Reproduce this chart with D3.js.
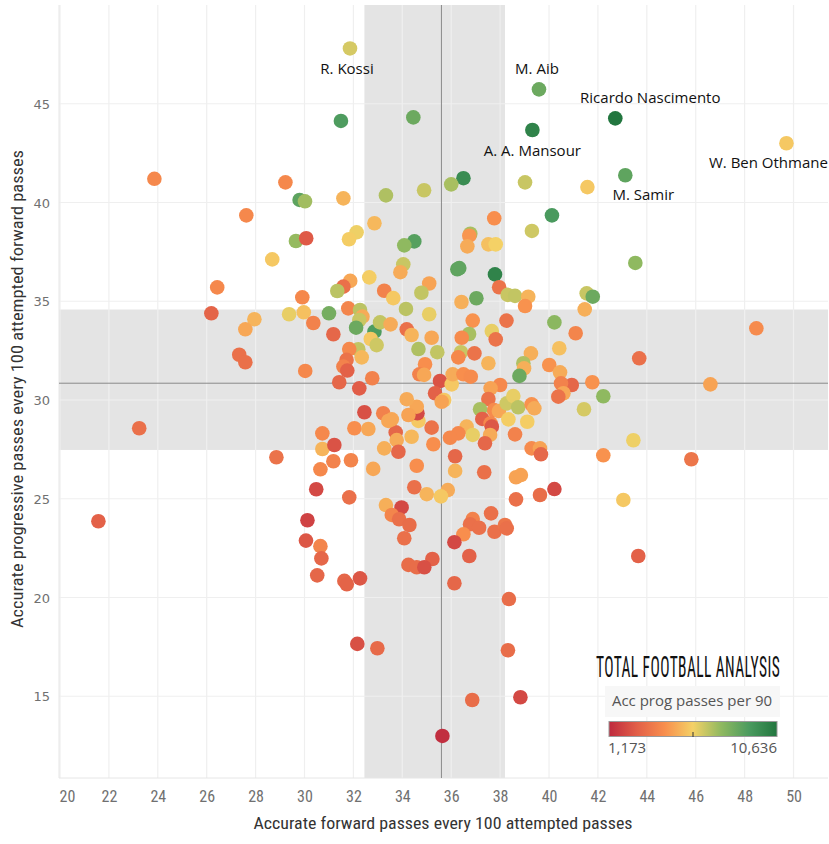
<!DOCTYPE html>
<html><head><meta charset="utf-8">
<script src="https://cdn.jsdelivr.net/npm/d3@7"></script>
<style>
html,body{margin:0;padding:0;background:#fff;}
svg{display:block;}
</style></head>
<body>
<svg id="chart" width="829" height="844"></svg>
<script>
// Accurate forward passes every 100 attempted passes (x)
const accForward = [
23.86,29.22,29.8,30.02,27.62,29.65,30.07,28.68,26.43,29.91,26.19,27.95,27.58,29.37,29.97,30.36,31.0,31.18,27.33,27.58,30.03,
23.24,30.73,30.73,28.85,30.65,31.18,31.22,30.48,21.57,30.12,30.06,30.65,30.69,30.52,
31.86,39.59,31.49,34.45,39.32,36.5,36.0,39.02,31.59,33.33,34.89,40.12,37.76,32.86,32.13,31.82,39.3,36.78,36.74,36.66,37.52,37.82,34.49,34.08,34.04,33.92,36.25,36.33,37.79,37.96,32.65,35.1,33.26,31.87,31.59,31.34,34.78,33.63,36.42,37.03,38.31,38.61,39.15,
42.71,49.71,43.12,41.57,43.53,41.54,41.79,
48.48,43.69,46.6,41.77,40.93,42.22,41.43,43.45,42.22,45.82,41.09,41.46,
31.79,32.27,32.37,32.24,32.11,32.86,33.09,33.52,32.71,32.95,32.2,32.34,31.83,31.72,31.59,31.75,31.42,32.24,32.77,34.15,35.1,34.18,34.38,35.2,34.66,35.43,34.93,34.7,34.89,35.54,35.34,35.71,35.61,36.02,36.06,36.5,36.8,36.88,36.73,36.43,36.4,36.29,36.95,37.66,37.82,38.26,37.52,39.02,40.22,40.42,39.26,38.95,38.98,38.79,40.01,40.45,40.49,40.59,40.38,38.0,37.61,37.52,37.75,37.95,37.18,37.27,37.61,37.66,37.59,37.38,38.27,38.54,38.74,38.34,39.11,39.29,39.4,38.61,39.29,39.63,39.67,36.63,36.88,36.29,35.95,36.16,35.2,35.27,34.38,34.66,34.62,34.59,34.25,34.18,33.73,33.77,33.84,33.26,33.22,33.57,33.43,32.04,32.61,32.45,31.9,
32.81,34.59,36.16,37.35,38.65,38.85,34.49,35.0,35.86,35.58,31.83,33.33,33.97,33.57,33.87,34.29,34.08,36.88,36.77,37.14,36.5,37.63,37.77,38.2,38.27,36.13,36.74,35.23,34.25,34.59,34.9,31.63,31.73,32.27,36.13,38.36,38.65,39.63,40.22,43.04,43.65,
32.16,32.98,38.32,36.86,38.83,35.64
];
// Accurate progressive passes every 100 attempted forward passes (y)
const accProgressive = [
41.2,41.02,40.13,40.06,39.35,38.05,38.19,37.12,35.7,35.2,34.39,34.09,33.58,34.34,34.44,33.9,34.39,33.33,32.29,31.91,31.47,
28.57,28.31,27.52,27.1,26.49,26.9,27.72,25.48,23.86,23.91,22.88,22.6,21.98,21.12,
47.8,45.73,44.13,44.31,43.67,41.23,40.92,41.02,40.21,40.36,40.62,39.35,39.2,38.95,38.49,38.14,38.56,38.42,38.32,37.78,37.88,37.88,38.03,37.83,36.87,36.47,36.62,36.68,36.36,35.71,36.21,35.9,35.53,36.03,35.74,35.52,35.43,35.16,34.96,35.15,35.32,35.27,35.23,
44.26,43.0,41.38,40.78,36.94,35.4,35.23,
33.63,32.11,30.79,30.9,30.76,30.19,29.53,27.96,27.2,27.0,33.38,34.59,
34.64,34.56,34.22,34.05,33.66,33.46,33.93,33.83,33.09,32.78,32.57,32.16,32.58,32.03,31.69,31.49,30.9,30.59,31.1,34.61,34.34,33.58,33.29,33.15,32.58,32.42,31.81,31.3,31.27,30.96,30.34,30.0,29.91,30.79,31.3,31.3,31.18,34.02,33.34,33.15,32.42,32.16,32.36,33.49,33.07,34.02,31.86,34.76,33.93,32.62,32.36,31.86,31.6,31.22,31.77,31.4,30.84,30.34,30.17,30.76,30.59,30.05,29.49,29.44,29.53,29.04,28.82,28.65,28.23,27.81,29.83,30.2,29.63,29.02,28.9,29.78,29.58,28.26,27.55,27.55,27.25,28.65,28.23,28.31,28.09,27.15,28.6,27.76,28.14,28.94,29.33,29.66,29.24,30.04,28.36,27.97,27.38,27.55,29.33,29.02,28.94,28.57,28.53,29.38,26.95,
26.51,26.67,26.41,26.34,26.09,26.2,25.58,25.23,25.44,25.12,25.07,24.68,24.56,24.18,23.96,23.67,23.0,23.97,23.71,23.53,23.2,24.26,23.33,23.67,23.5,22.8,22.1,21.95,21.65,21.53,21.53,20.84,20.67,20.97,20.72,19.92,24.97,25.19,25.49,24.94,22.1,
17.65,17.43,17.33,14.81,14.95,12.99
];
// Accurate progressive passes per 90 (colour)
const progPer90 = [
4100,4100,8650,7200,4100,7400,2600,5700,4100,4100,2900,5200,4900,6100,5500,3900,8100,3000,3300,3300,4100,
3300,4100,5200,3400,4100,3900,2400,2100,2800,1900,2500,4000,3000,3000,
6400,8300,9000,8300,10100,9700,7100,6600,5200,7000,6600,9100,4300,5300,6000,5800,6500,7100,4500,5000,5500,5900,8800,7500,6600,5000,8600,8600,10100,3400,5800,4800,3900,4900,3300,6800,6700,5700,5100,8300,6600,6700,5200,
10636,5700,8600,5700,7500,6600,8300,
4200,3300,4800,4400,3000,7500,6400,6000,4400,3500,4000,5100,
4000,6800,5000,6600,8300,9000,6700,5000,5700,6500,6700,5300,4100,3400,3900,2800,3000,2700,3900,6800,6100,3300,5200,4900,7000,6700,4300,3900,4900,2400,2800,5700,4800,5700,5000,4300,4200,4400,7100,4200,6600,4100,3400,6100,3400,3400,5200,4400,7600,5500,5100,7000,5100,8300,4400,5000,3900,4900,3400,4100,4800,3400,4200,4900,7100,2800,4100,2500,5000,3000,6500,6100,6800,5800,5800,4400,5000,3900,4200,4800,3000,5200,6100,4100,4100,3000,3400,4300,5300,5700,2100,4900,4800,5000,3000,5000,3000,5100,3900,4900,4900,4300,4900,2300,4000,
4900,4300,5200,3300,4800,4800,3300,5200,5000,5700,3300,5100,2100,4000,3300,3200,3300,3900,3300,3300,4300,3300,3300,3500,3300,2100,2800,2800,3200,3200,2300,3000,2900,2500,3000,3200,3300,3200,2100,5700,2800,
2300,3100,3200,3200,2100,1300
];
// Labelled players (index into the arrays above)
const labelNames = ["R. Kossi","M. Aib","A. A. Mansour","Ricardo Nascimento","W. Ben Othmane","M. Samir"];
const labelIndex = [35,36,39,78,79,80];

const xTicks = [20,22,24,26,28,30,32,34,36,38,40,42,44,46,48,50];
const yTicks = [15,20,25,30,35,40,45];
const colorMin = 1173, colorMax = 10636;
const paletteStops = ["#be2a3e","#e25f48","#f88f4d","#f4d166","#90b960","#4b9b5f","#22763f"];
const xTitle = "Accurate forward passes every 100 attempted passes";
const yTitle = "Accurate progressive passes every 100 attempted forward passes";
const legendTitle = "Acc prog passes per 90";
const logoText = "TOTAL FOOTBALL ANALYSIS";

// reference bands / lines
const xBand = [32.45, 38.2], xMean = 35.6;
const yBand = [27.47, 34.58], yMean = 30.85;

const svg = d3.select("#chart");
const L = 59, R = 828, T = 5, B = 778;
const x = d3.scaleLinear().domain([20, 51.41]).range([60, 828]);
const y = d3.scaleLinear().domain([10.86, 50]).range([B, T]);
const colorDomain = paletteStops.map((d,i)=> colorMin + i*(colorMax-colorMin)/(paletteStops.length-1));
const color = d3.scaleLinear().domain(colorDomain).range(paletteStops).interpolate(d3.interpolateRgb).clamp(true);

const narrow = "'Liberation Sans Narrow','Roboto Condensed','Arial Narrow',Roboto,sans-serif";

// bands
svg.append("rect").attr("x", x(xBand[0])).attr("y", T).attr("width", x(xBand[1])-x(xBand[0])).attr("height", B-T).attr("fill","#e4e4e4");
svg.append("rect").attr("x", L).attr("y", y(yBand[1])).attr("width", R-L).attr("height", y(yBand[0])-y(yBand[1])).attr("fill","#e4e4e4");

// gridlines
const grid = svg.append("g");
grid.selectAll("line.v").data(xTicks).join("line").attr("class","v")
  .attr("x1",d=>x(d)).attr("x2",d=>x(d)).attr("y1",T).attr("y2",B)
  .attr("stroke","#efefef").attr("stroke-width",1.2);
grid.selectAll("line.h").data(yTicks).join("line").attr("class","h")
  .attr("x1",L).attr("x2",R).attr("y1",d=>y(d)).attr("y2",d=>y(d))
  .attr("stroke","#efefef").attr("stroke-width",1.2);
svg.append("line").attr("x1",L).attr("x2",L).attr("y1",T).attr("y2",B).attr("stroke","#e6e6e6");
svg.append("line").attr("x1",L).attr("x2",R).attr("y1",B).attr("y2",B).attr("stroke","#e6e6e6");

// mean lines
svg.append("line").attr("x1",x(xMean)).attr("x2",x(xMean)).attr("y1",T).attr("y2",B).attr("stroke","#8a8a8a").attr("stroke-width",1);
svg.append("line").attr("x1",L).attr("x2",R).attr("y1",y(yMean)).attr("y2",y(yMean)).attr("stroke","#8a8a8a").attr("stroke-width",1);

// axes
const xAxis = svg.append("g").attr("transform",`translate(0,${B})`)
  .call(d3.axisBottom(x).tickValues(xTicks).tickSize(0).tickPadding(13));
xAxis.select(".domain").remove();
xAxis.selectAll("text").attr("fill","#707070").style("font-family",narrow).style("font-size","16px");
xAxis.selectAll(".tick").filter(d=>d===20).select("text").attr("dx",7);

const yAxis = svg.append("g").attr("transform",`translate(${L},0)`)
  .call(d3.axisLeft(y).tickValues(yTicks).tickSize(0).tickPadding(9));
yAxis.select(".domain").remove();
yAxis.selectAll("text").attr("fill","#707070").style("font-family","'DejaVu Sans',sans-serif").style("font-size","13px").attr("dy","0.35em");

svg.append("text").attr("x",443).attr("y",829).attr("text-anchor","middle")
  .attr("textLength",379).attr("lengthAdjust","spacingAndGlyphs")
  .style("font-family",narrow).style("font-size","17px").attr("fill","#333").text(xTitle);
svg.append("text").attr("transform","translate(23,389) rotate(-90)").attr("text-anchor","middle")
  .attr("textLength",478).attr("lengthAdjust","spacingAndGlyphs")
  .style("font-family",narrow).style("font-size","17px").attr("fill","#333").text(yTitle);

// points
const pts = accForward.map((d,i)=>({x:d, y:accProgressive[i], v:progPer90[i]}));
svg.append("g").selectAll("circle").data(pts).join("circle")
  .attr("cx",d=>x(d.x)).attr("cy",d=>y(d.y)).attr("r",7.3)
  .attr("fill",d=>color(d.v));

// labels
const labelOffsets = {"R. Kossi":[-3,26],"M. Aib":[-2,-15],"A. A. Mansour":[0,26],
  "Ricardo Nascimento":[35,-15],"W. Ben Othmane":[-18,25],"M. Samir":[18,25]};
svg.append("g").selectAll("text").data(labelNames).join("text")
  .attr("x",(d,i)=>x(accForward[labelIndex[i]])+labelOffsets[d][0])
  .attr("y",(d,i)=>y(accProgressive[labelIndex[i]])+labelOffsets[d][1])
  .attr("text-anchor","middle")
  .style("font-family","'Open Sans',sans-serif").style("font-size","15px").attr("fill","#111")
  .text(d=>d);

// logo (vertically stretched condensed wordmark)
svg.append("text").attr("transform","translate(688,677) scale(1,1.9)")
  .attr("text-anchor","middle")
  .style("font-family",narrow).style("font-size","15.5px").style("letter-spacing","0.4px").attr("fill","#111").text(logoText);

// legend
svg.append("rect").attr("x",605).attr("y",686).attr("width",175).attr("height",31).attr("fill","#f7f7f7");
svg.append("text").attr("x",692).attr("y",706).attr("text-anchor","middle")
  .style("font-family","'Open Sans',sans-serif").style("font-size","15px").attr("fill","#555").text(legendTitle);
const defs = svg.append("defs");
const grad = defs.append("linearGradient").attr("id","lg").attr("x1","0%").attr("x2","100%");
paletteStops.forEach((c,i)=>grad.append("stop").attr("offset",(i/(paletteStops.length-1)*100)+"%").attr("stop-color",c));
svg.append("rect").attr("x",609).attr("y",721.5).attr("width",168).attr("height",15).attr("fill","url(#lg)").attr("stroke","#9a9a9a").attr("stroke-width",1);
svg.append("line").attr("x1",693).attr("x2",693).attr("y1",732).attr("y2",737).attr("stroke","#333");
const fmt = d3.format(",");
svg.append("text").attr("x",608).attr("y",753).style("font-family","'Open Sans',sans-serif").style("font-size","15px").attr("fill","#555").text(fmt(colorMin));
svg.append("text").attr("x",777).attr("y",753).attr("text-anchor","end").style("font-family","'Open Sans',sans-serif").style("font-size","15px").attr("fill","#555").text(fmt(colorMax));
</script>
</body></html>
